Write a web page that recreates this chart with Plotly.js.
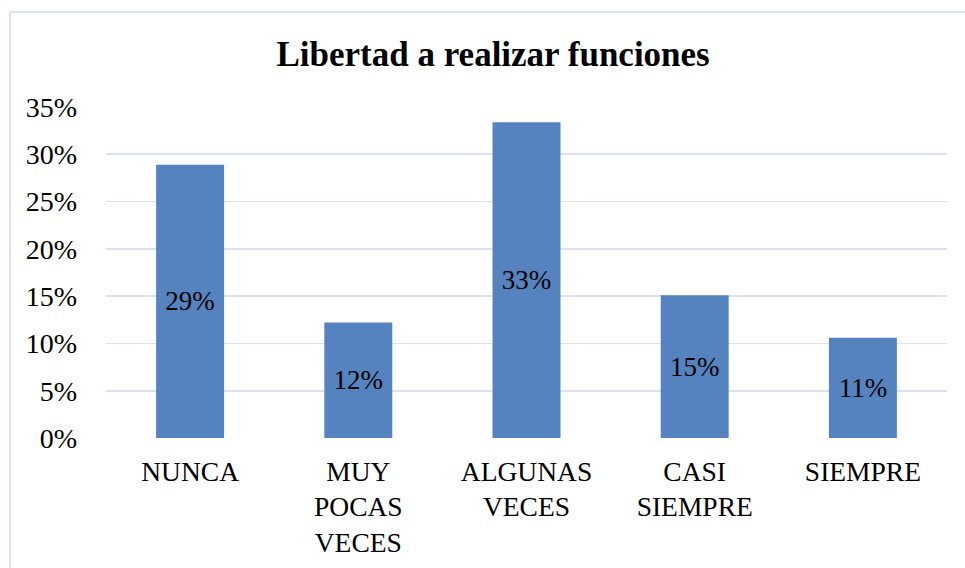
<!DOCTYPE html>
<html>
<head>
<meta charset="utf-8">
<script src="https://cdn.plot.ly/plotly-3.0.1.min.js"></script>
<style>
html,body{margin:0;padding:0;background:#fff;}
#chart{width:965px;height:568px;}
#frame{position:absolute;left:9px;top:11px;width:2000px;height:2000px;border:2px solid #dae3f3;pointer-events:none;box-sizing:border-box;}
</style>
</head>
<body>
<div id="chart"></div>
<div id="frame"></div>
<script>
const categories = ["NUNCA", "MUY<br>POCAS<br>VECES", "ALGUNAS<br>VECES", "CASI<br>SIEMPRE", "SIEMPRE"];
const values = [0.289, 0.122, 0.334, 0.151, 0.106];
const labels = ["29%", "12%", "33%", "15%", "11%"];
const tickVals = [0, 0.05, 0.10, 0.15, 0.20, 0.25, 0.30, 0.35];

const serif = "Liberation Serif, Times New Roman, serif";

const trace = {
  type: "bar",
  x: categories,
  y: values,
  text: labels,
  textposition: "inside",
  insidetextanchor: "middle",
  textangle: 0,
  textfont: {family: serif, size: 27, color: "#000"},
  marker: {color: "#5483c0", line: {width: 0}},
  hoverinfo: "none"
};

const layout = {
  width: 965,
  height: 568,
  margin: {l: 106, r: 18, t: 107, b: 130},
  paper_bgcolor: "#fff",
  plot_bgcolor: "#fff",
  bargap: 0.596,
  showlegend: false,
  title: {
    text: "<b>Libertad a realizar funciones</b>",
    font: {family: serif, size: 35, color: "#000"},
    xref: "container", x: 0.511, xanchor: "center",
    yref: "container", y: 0.906, yanchor: "middle"
  },
  xaxis: {
    showline: false, showgrid: false, zeroline: false,
    tickfont: {family: serif, size: 27.5, color: "#000"},
    ticks: "", ticklabelstandoff: 14
  },
  yaxis: {
    range: [0, 0.35],
    tickvals: tickVals,
    tickformat: ".0%",
    showgrid: true, gridcolor: "#d9e2f3", gridwidth: 1.6,
    zeroline: false, showline: false,
    ticks: "", ticklabelstandoff: 28,
    tickfont: {family: serif, size: 28, color: "#000"}
  }
};

Plotly.newPlot("chart", [trace], layout, {displayModeBar: false, staticPlot: true});
</script>
</body>
</html>
